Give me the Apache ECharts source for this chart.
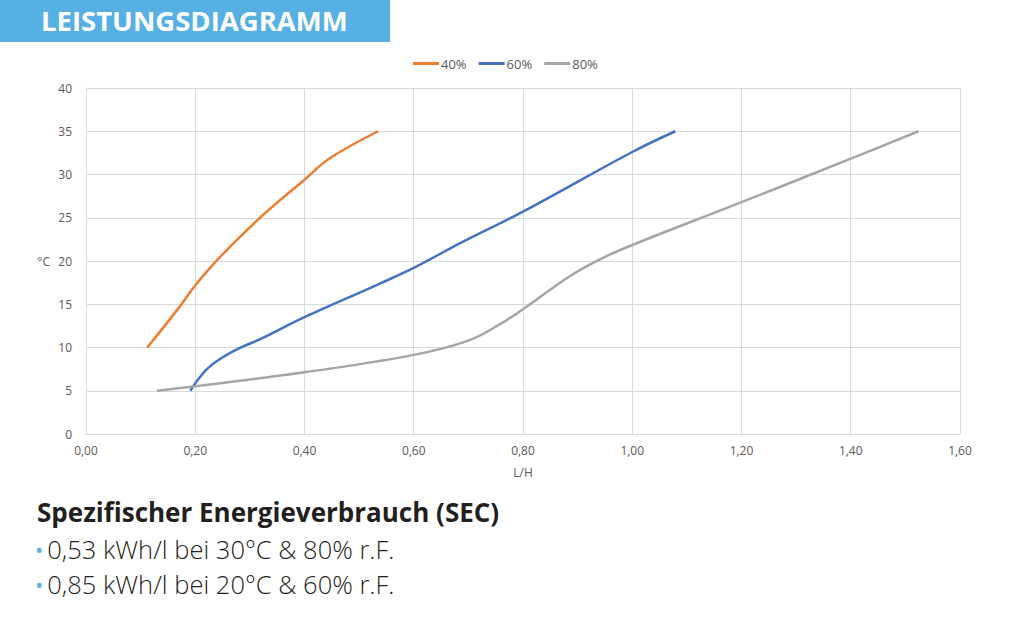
<!DOCTYPE html>
<html>
<head>
<meta charset="utf-8">
<script src="https://cdn.jsdelivr.net/npm/echarts@6/dist/echarts.min.js"></script>
<style>
  html, body { margin: 0; padding: 0; background: #fff; }
  #main { width: 1024px; height: 628px; }
</style>
</head>
<body>
<div id="main"></div>
<script>
// Leistungsdiagramm: Entfeuchtungsleistung (L/H) gegen Temperatur (°C)
var seriesNames = ['40%', '60%', '80%'];
var seriesColors = ['#ed7d31', '#4472c4', '#a5a5a5'];

// [L/H, °C]
var rh40 = [[0.112, 10], [0.167, 14.35], [0.201, 17.25], [0.246, 20.5], [0.322, 25.2], [0.40, 29.4], [0.447, 31.9], [0.535, 35]];
var rh60 = [[0.191, 5], [0.22, 7.4], [0.251, 8.9], [0.28, 9.9], [0.32, 11], [0.40, 13.5], [0.533, 17.25], [0.60, 19.2], [0.685, 22.07], [0.80, 25.7], [1.0, 32.6], [1.079, 35]];
var rh80 = [[0.13, 5], [0.40, 7.14], [0.60, 9.15], [0.70, 10.8], [0.758, 12.7], [0.80, 14.43], [0.887, 18.3], [0.941, 20.2], [1.0, 21.85], [1.2, 26.8], [1.4, 31.83], [1.524, 35]];

var secTitle = 'Spezifischer Energieverbrauch (SEC)';
var secLines = ['0,53 kWh/l bei 30°C & 80% r.F.', '0,85 kWh/l bei 20°C & 60% r.F.'];

var chart = echarts.init(document.getElementById('main'), null, { renderer: 'svg' });

var allData = [rh40, rh60, rh80];
var series = allData.map(function (d, i) {
    return {
        name: seriesNames[i],
        type: 'line',
        data: d,
        smooth: 0.4,
        showSymbol: false,
        symbol: 'none',
        lineStyle: { width: 2.5, color: seriesColors[i] },
        itemStyle: { color: seriesColors[i] }
    };
});

var option = {
    backgroundColor: '#fff',
    animation: false,
    textStyle: { fontFamily: 'Open Sans' },
    legend: {
        left: 408,
        top: 52,
        itemWidth: 26,
        itemHeight: 3,
        itemGap: 12,
        icon: 'rect',
        textStyle: { color: '#595959', fontSize: 13, padding: [0, 0, 0, -3] },
        data: seriesNames
    },
    grid: { left: 86, right: 64, top: 88, bottom: 194 },
    xAxis: {
        type: 'value',
        min: 0,
        max: 1.6,
        interval: 0.2,
        name: 'L/H',
        nameLocation: 'middle',
        nameGap: 32,
        nameTextStyle: { color: '#595959', fontSize: 12 },
        axisLine: { show: true, lineStyle: { color: '#d9d9d9', width: 1 } },
        axisTick: { show: false },
        axisLabel: {
            color: '#595959',
            fontSize: 12,
            margin: 10,
            formatter: function (v) { return v.toFixed(2).replace('.', ','); }
        },
        splitLine: { show: true, lineStyle: { color: '#d9d9d9', width: 1 } }
    },
    yAxis: {
        type: 'value',
        min: 0,
        max: 40,
        interval: 5,
        name: '°C',
        nameLocation: 'middle',
        nameRotate: 0,
        nameGap: 36,
        nameTextStyle: { color: '#595959', fontSize: 12 },
        axisLine: { show: true, lineStyle: { color: '#d9d9d9', width: 1 } },
        axisTick: { show: false },
        axisLabel: { color: '#595959', fontSize: 12, margin: 14 },
        splitLine: { show: true, lineStyle: { color: '#d9d9d9', width: 1 } }
    },
    graphic: [
        {
            type: 'rect',
            shape: { x: 0, y: 0, width: 390, height: 42 },
            style: { fill: '#56b0e3' },
            silent: true
        },
        {
            type: 'text',
            x: 41,
            y: 6,
            style: {
                text: 'LEISTUNGSDIAGRAMM',
                fill: '#ffffff',
                font: 'bold 27.5px "Open Sans"'
            }
        },
        {
            type: 'text',
            x: 37,
            y: 499,
            style: {
                text: secTitle,
                fill: '#231f20',
                font: 'bold 26px "Open Sans"'
            }
        },
        {
            type: 'text',
            x: 35,
            y: 536,
            style: {
                text: '{b|•}' + secLines[0],
                fill: '#231f20',
                font: '300 25.5px "Open Sans"',
                rich: { b: { fill: '#56b0e3', font: '22px "Open Sans"', padding: [0, 4, 0, 0] } }
            }
        },
        {
            type: 'text',
            x: 35,
            y: 571,
            style: {
                text: '{b|•}' + secLines[1],
                fill: '#231f20',
                font: '300 25.5px "Open Sans"',
                rich: { b: { fill: '#56b0e3', font: '22px "Open Sans"', padding: [0, 4, 0, 0] } }
            }
        }
    ],
    series: series
};

chart.setOption(option);
</script>
</body>
</html>
